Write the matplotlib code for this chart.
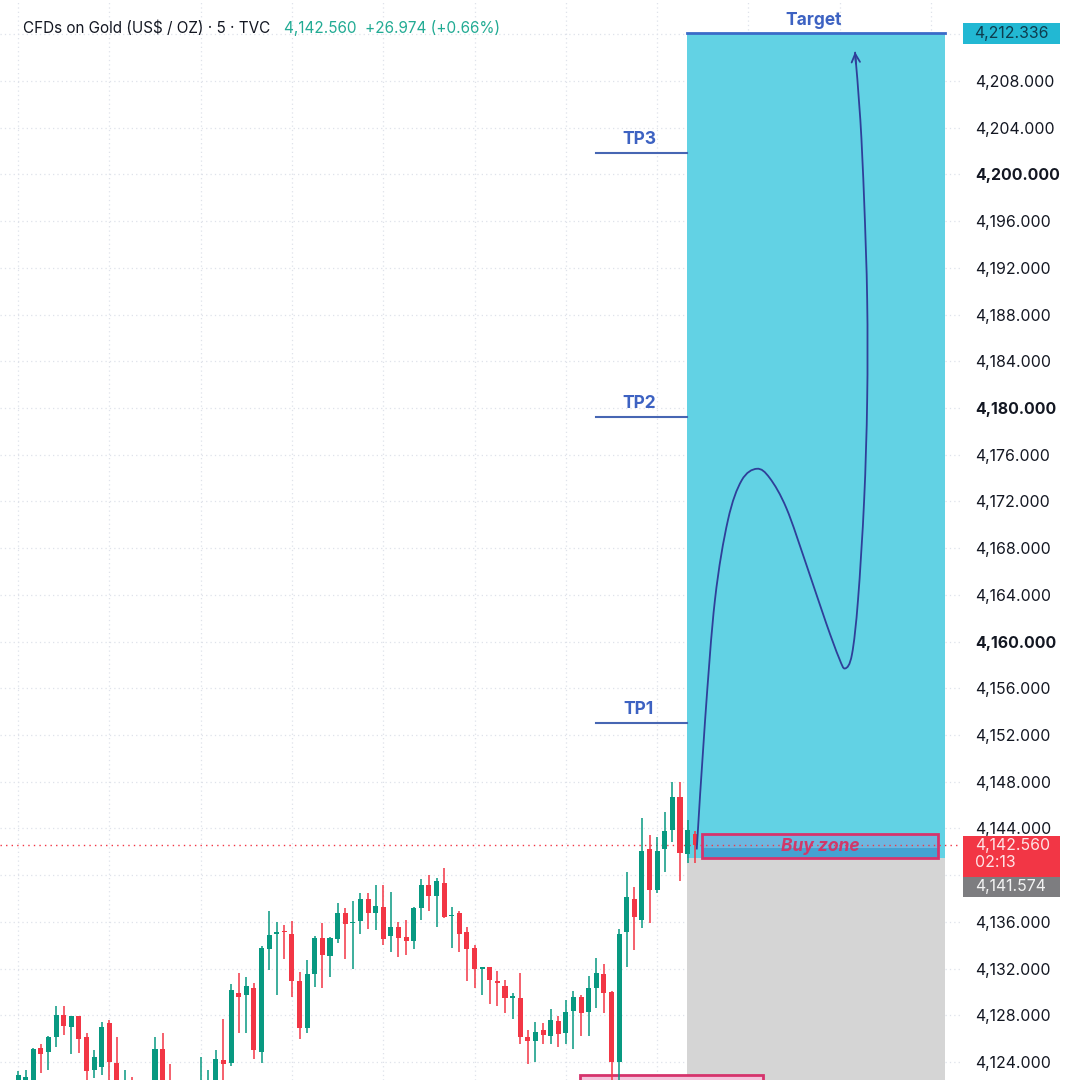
import numpy as np
import matplotlib.pyplot as plt
from matplotlib.patches import Rectangle
from matplotlib.path import Path
from matplotlib.patches import PathPatch

plt.rcParams['font.family'] = ['Inter', 'DejaVu Sans']

# 5-minute candles (oldest first)
opens = [4121.0, 4121.8, 4122.0, 4125.2, 4124.9, 4126.1, 4128.0, 4127.0, 4127.9, 4126.1,
         4123.3, 4123.6, 4127.3, 4123.9, 4120.5, 4121.8, 4120.8, 4121.5, 4121.0, 4125.1,
         4121.6, 4120.0, 4121.2, 4120.4, 4121.0, 4121.5, 4121.8, 4124.2, 4123.9, 4129.9,
         4129.7, 4130.3, 4124.9, 4133.7, 4135.0, 4135.2, 4135.0, 4130.9, 4126.9, 4131.5,
         4134.6, 4133.1, 4134.5, 4136.8, 4135.9, 4136.1, 4138.0, 4136.8, 4137.3, 4134.8,
         4135.6, 4134.7, 4134.4, 4137.2, 4139.2, 4138.2, 4139.3, 4136.5, 4136.8, 4135.1,
         4133.8, 4132.0, 4132.1, 4130.9, 4130.5, 4129.5, 4129.5, 4126.1, 4125.8, 4126.7,
         4126.2, 4127.5, 4126.5, 4128.4, 4129.6, 4128.3, 4130.3, 4131.5, 4130.0, 4124.0,
         4135.1, 4138.0, 4136.2, 4142.2, 4138.7, 4142.2, 4143.9, 4146.7, 4141.8, 4143.5]
highs = [4123.2, 4123.3, 4125.2, 4125.5, 4126.2, 4128.8, 4128.8, 4127.9, 4127.9, 4126.5,
         4125.0, 4127.4, 4127.6, 4126.1, 4123.3, 4122.7, 4122.0, 4121.9, 4126.1, 4126.5,
         4123.8, 4121.8, 4121.6, 4122.1, 4124.4, 4123.3, 4125.0, 4127.7, 4130.7, 4131.6,
         4131.3, 4130.8, 4133.9, 4136.9, 4136.0, 4135.7, 4136.1, 4131.7, 4132.7, 4134.8,
         4135.9, 4134.7, 4137.6, 4137.2, 4137.8, 4138.5, 4138.5, 4139.2, 4139.2, 4138.6,
         4136.0, 4136.2, 4137.3, 4139.7, 4140.0, 4139.8, 4140.6, 4137.3, 4136.9, 4135.6,
         4134.0, 4132.1, 4132.1, 4131.8, 4131.0, 4129.9, 4131.6, 4126.7, 4127.4, 4127.3,
         4128.5, 4127.9, 4129.3, 4130.1, 4129.7, 4131.4, 4132.9, 4132.4, 4130.1, 4135.4,
         4140.3, 4139.0, 4144.9, 4143.4, 4143.3, 4145.4, 4148.0, 4148.0, 4144.7, 4143.8]
lows = [4120.5, 4121.2, 4121.6, 4123.1, 4123.3, 4125.3, 4126.3, 4124.7, 4124.8, 4122.2,
        4122.6, 4122.9, 4122.4, 4120.8, 4120.0, 4120.0, 4120.2, 4120.3, 4120.5, 4120.6,
        4119.9, 4119.6, 4119.9, 4120.0, 4120.5, 4121.0, 4121.2, 4122.5, 4123.7, 4126.5,
        4126.5, 4124.3, 4123.9, 4131.9, 4129.7, 4132.8, 4129.6, 4126.0, 4126.5, 4130.4,
        4130.3, 4131.3, 4134.2, 4132.8, 4132.0, 4135.0, 4135.4, 4135.3, 4134.0, 4133.4,
        4133.0, 4133.2, 4133.7, 4136.2, 4136.9, 4135.6, 4136.3, 4133.8, 4133.4, 4130.9,
        4130.3, 4129.7, 4129.0, 4128.8, 4128.2, 4127.7, 4125.5, 4123.8, 4124.0, 4125.5,
        4125.5, 4125.3, 4125.5, 4125.1, 4126.2, 4126.2, 4128.6, 4128.2, 4121.5, 4121.8,
        4132.1, 4133.6, 4135.5, 4135.9, 4138.5, 4140.3, 4142.8, 4139.5, 4141.0, 4141.0]
closes = [4122.9, 4122.7, 4125.1, 4124.7, 4126.1, 4128.0, 4127.1, 4127.9, 4126.0, 4123.2,
          4124.4, 4127.0, 4124.0, 4121.5, 4121.8, 4120.6, 4121.5, 4120.9, 4125.1, 4121.2,
          4120.5, 4121.2, 4120.4, 4121.6, 4122.3, 4122.4, 4124.3, 4123.8, 4130.2, 4129.6,
          4130.5, 4125.0, 4133.8, 4134.9, 4135.1, 4135.1, 4130.9, 4126.9, 4131.5, 4134.6,
          4133.2, 4134.6, 4136.8, 4135.8, 4136.0, 4138.0, 4136.8, 4137.4, 4134.5, 4135.6,
          4134.6, 4134.4, 4137.2, 4139.2, 4138.2, 4139.5, 4136.4, 4136.6, 4135.0, 4133.7,
          4132.0, 4132.1, 4131.0, 4130.8, 4129.5, 4129.6, 4126.1, 4125.8, 4126.6, 4126.3,
          4127.6, 4126.4, 4128.3, 4129.6, 4128.2, 4130.3, 4131.6, 4129.9, 4124.0, 4135.0,
          4138.1, 4136.4, 4142.1, 4138.7, 4142.1, 4143.8, 4146.7, 4141.9, 4143.9, 4142.56]

# trade plan levels
target = 4212.336
target_line = 4212.1
tp_levels = [4201.8, 4179.2, 4153.0]
tp_names = ["TP3", "TP2", "TP1"]
entry = 4141.47
stop_tag = 4141.574
buy_zone = (4141.47, 4143.5)
last_price = 4142.56
countdown = "02:13"

# hand-drawn projection path (candle index, price)
path_x = [89.2, 90.3, 91.6, 93.3, 95.1, 97.1, 98.8, 101.0, 103.6, 106.2, 107.9, 108.7,
          109.6, 110.4, 111.2, 111.6, 111.6, 111.2, 110.7, 110.0]
path_y = [4142.2, 4153.3, 4163.6, 4170.4, 4173.8, 4174.8, 4174.0, 4171.4, 4166.6, 4161.6,
          4158.6, 4157.7, 4158.9, 4163.6, 4172.1, 4180.7, 4189.3, 4197.8, 4204.7, 4210.5]

GREEN = "#089981"
RED = "#f23645"

fig = plt.figure(figsize=(10.8, 10.8), dpi=100)
ax = fig.add_axes([0, 0, 960 / 1080, 1])
ax.set_xlim(-2.37, 123.8)
ax.set_ylim(4122.46, 4214.94)

# grid
ax.set_yticks(np.arange(4124, 4213, 4))
ax.set_xticks(np.arange(0, 121, 12))
ax.grid(True, color="#dfe2ea", linestyle=(0, (1, 2.5)), linewidth=0.9)
ax.set_axisbelow(True)
for s in ax.spines.values():
    s.set_visible(False)
ax.tick_params(axis="x", length=0, labelbottom=False)
ax.yaxis.tick_right()
ax.tick_params(axis="y", length=0, pad=11, labelsize=11.4, labelcolor="#131722")
labels = []
for v in np.arange(4124, 4213, 4):
    labels.append("" if v in (4140, 4212) else f"{v:,.3f}")
ax.set_yticklabels(labels)
for lab, v in zip(ax.get_yticklabels(), np.arange(4124, 4213, 4)):
    if v % 20 == 0:
        lab.set_fontweight("bold")

# long position box
box_l, box_r = 87.9, 121.8
ax.add_patch(Rectangle((box_l, entry), box_r - box_l, target_line - entry,
                       facecolor="#62d2e4", edgecolor="none", zorder=1))
ax.add_patch(Rectangle((box_l, 4110), box_r - box_l, entry - 4110,
                       facecolor="#d5d5d5", edgecolor="none", zorder=1))
ax.plot([box_l, box_r], [target_line, target_line], color="#3a6bc8", lw=2, zorder=2)
ax.text(104.5, 4213.2, "Target", color="#3d62c2",
        fontsize=12.5, fontweight="bold", ha="center", va="center", zorder=5)

# take-profit markers
for lvl, name in zip(tp_levels, tp_names):
    ax.plot([76.0, box_l], [lvl, lvl], color="#4766b3", lw=1.5, zorder=2)
    ax.text(81.6, lvl + 1.2, name, color="#3d62c2", fontsize=12.5,
            fontweight="bold", ha="center", va="center", zorder=5)

# buy zone
ax.add_patch(Rectangle((89.9, buy_zone[0]), 31.0, buy_zone[1] - buy_zone[0],
                       facecolor="#6cb6df", edgecolor="none", zorder=2))
ax.add_patch(Rectangle((89.9, buy_zone[0]), 31.0, last_price - 0.2 - buy_zone[0],
                       facecolor="#44a2d2", edgecolor="none", zorder=2))
ax.add_patch(Rectangle((89.9, buy_zone[0]), 31.0, buy_zone[1] - buy_zone[0],
                       facecolor="none", edgecolor="#d6336c", lw=2, zorder=3))
ax.text(105.4, (buy_zone[0] + buy_zone[1]) / 2, "Buy zone", color="#d0386a",
        fontsize=12.5, fontweight="bold", fontstyle="italic",
        ha="center", va="center", zorder=4)

# pink zone at the bottom
ax.add_patch(Rectangle((73.9, 4110), 24.0, 4122.9 - 4110,
                       facecolor="#f3c4dc", edgecolor="#d6336c", lw=2, zorder=2))

# last price line
ax.axhline(last_price, color=RED, lw=1, linestyle=(0, (1, 3)), zorder=2)

# candles
idx = np.arange(len(opens))
o = np.array(opens)
c = np.array(closes)
colors = [GREEN if cc >= oo else RED for oo, cc in zip(o, c)]
ax.vlines(idx, lows, highs, colors=colors, lw=1.1, zorder=6)
bottoms = np.minimum(o, c)
heights = np.maximum(np.abs(c - o), 0.12)
ax.bar(idx, heights, bottom=bottoms, width=0.66, color=colors, lw=0, zorder=7)

# projection path, smoothed as a Catmull-Rom curve through the waypoints
pts = np.column_stack([path_x, path_y])
verts = [pts[0]]
codes = [Path.MOVETO]
for k in range(len(pts) - 1):
    p0 = pts[max(k - 1, 0)]
    p1 = pts[k]
    p2 = pts[k + 1]
    p3 = pts[min(k + 2, len(pts) - 1)]
    verts += [p1 + (p2 - p0) / 6, p2 - (p3 - p1) / 6, p2]
    codes += [Path.CURVE4] * 3
ax.add_patch(PathPatch(Path(verts, codes), facecolor="none",
                       edgecolor="#2f3f99", lw=1.3, zorder=8))
ax.annotate("", xy=(path_x[-1], path_y[-1]), xytext=(path_x[-1] + 0.12, path_y[-1] - 1.0),
            arrowprops=dict(arrowstyle="->", color="#2f3f99", lw=1.3,
                            mutation_scale=15, shrinkA=0, shrinkB=0), zorder=8)

# price tags on the scale
tr = ax.get_yaxis_transform()
tag_x, tag_w = 1.003, 0.101
ax.add_patch(Rectangle((tag_x, target - 1.2), tag_w, 1.8, transform=tr,
                       facecolor="#22b8d3", edgecolor="none", clip_on=False))
ax.text(tag_x + tag_w / 2, target - 0.3, f"{target:,.3f}", transform=tr, color="#0e3d4f",
        fontsize=11.4, ha="center", va="center")
ax.add_patch(Rectangle((tag_x, 4139.76), tag_w, 3.6, transform=tr,
                       facecolor=RED, edgecolor="none", clip_on=False))
ax.text(1.0156, last_price, f"{last_price:,.3f}", transform=tr, color="#ffe3e6",
        fontsize=11.4, ha="left", va="center")
ax.text(1.0156, last_price - 1.45, countdown, transform=tr, color="#ffe3e6",
        fontsize=11.4, ha="left", va="center")
ax.add_patch(Rectangle((tag_x, 4138.13), tag_w, 1.72, transform=tr,
                       facecolor="#7d7d80", edgecolor="none", clip_on=False))
ax.text(1.0156, 4138.99, f"{stop_tag:,.3f}", transform=tr, color="#f2f2f2",
        fontsize=11.4, ha="left", va="center")

# header
fig.text(23 / 1080, 1 - 28 / 1080, "CFDs on Gold (US$ / OZ) · 5 · TVC", color="#131722",
         fontsize=11, ha="left", va="center")
fig.text(284 / 1080, 1 - 28 / 1080, "4,142.560  +26.974 (+0.66%)", color="#22ab94",
         fontsize=11, ha="left", va="center")

fig.savefig("out.png", dpi=100, facecolor="white")
